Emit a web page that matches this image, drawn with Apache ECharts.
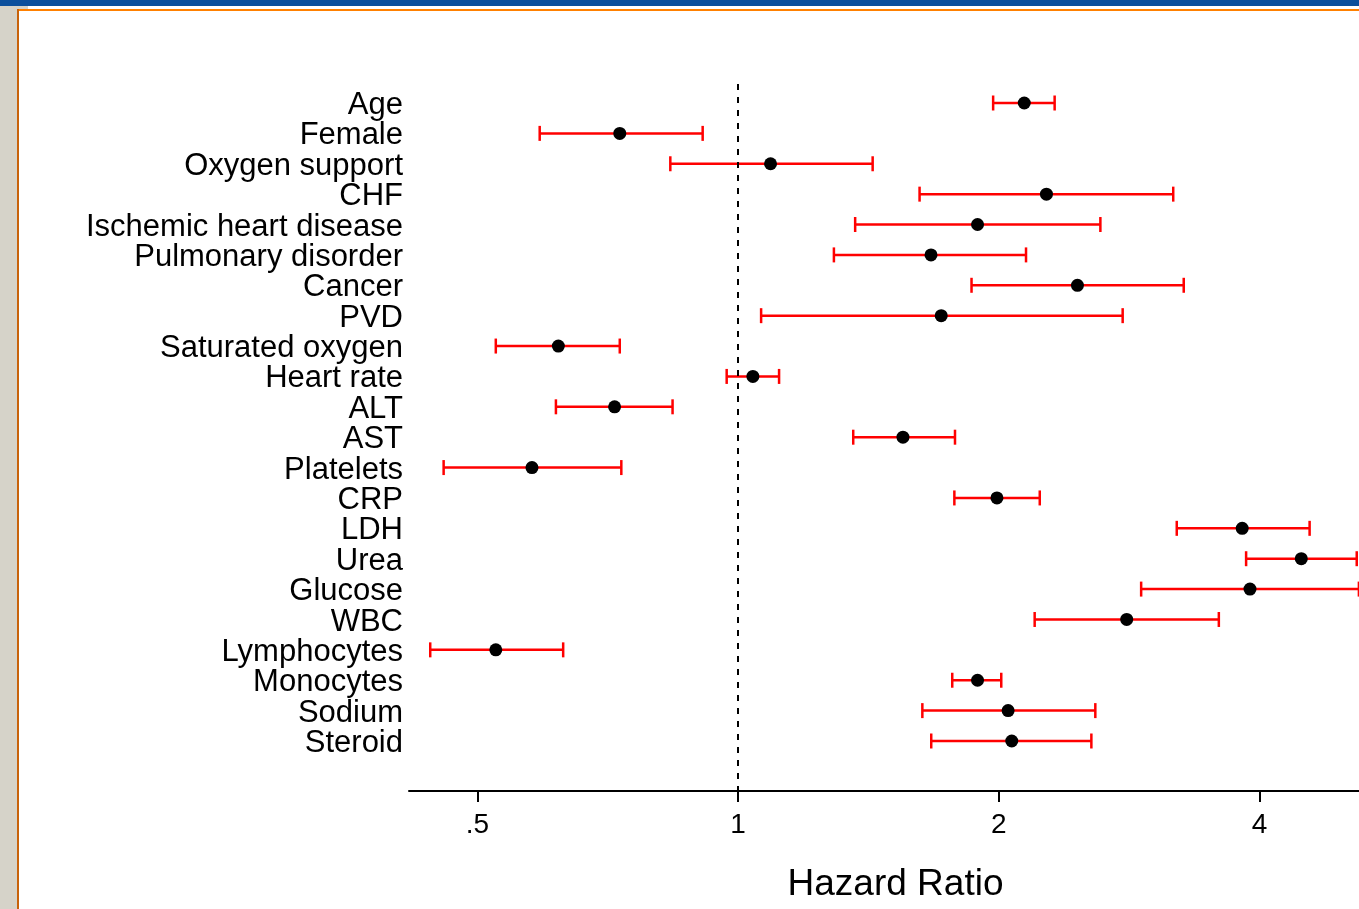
<!DOCTYPE html>
<html>
<head>
<meta charset="utf-8">
<title>Hazard Ratio</title>
<script src="https://cdn.jsdelivr.net/npm/echarts@6.0.0/dist/echarts.min.js"></script>
<style>
  html, body { margin: 0; padding: 0; overflow: hidden; background: #fff; }
  #chart { width: 1400px; height: 909px; }
</style>
</head>
<body>
<div id="chart"></div>
<script>
// covariates, top to bottom
const labels = ['Age', 'Female', 'Oxygen support', 'CHF', 'Ischemic heart disease',
  'Pulmonary disorder', 'Cancer', 'PVD', 'Saturated oxygen', 'Heart rate', 'ALT', 'AST',
  'Platelets', 'CRP', 'LDH', 'Urea', 'Glucose', 'WBC', 'Lymphocytes', 'Monocytes',
  'Sodium', 'Steroid'];
// hazard ratio and 95% CI
const hr = [2.14, 0.73, 1.09, 2.27, 1.89, 1.67, 2.465, 1.716, 0.62, 1.04, 0.72, 1.55,
  0.578, 1.99, 3.82, 4.47, 3.9, 2.81, 0.525, 1.89, 2.05, 2.07];
const lower = [1.97, 0.59, 0.835, 1.62, 1.365, 1.29, 1.86, 1.063, 0.525, 0.97, 0.616, 1.358,
  0.457, 1.777, 3.21, 3.86, 2.92, 2.2, 0.441, 1.767, 1.632, 1.671];
const upper = [2.32, 0.91, 1.43, 3.18, 2.62, 2.15, 3.27, 2.78, 0.73, 1.115, 0.84, 1.78,
  0.733, 2.23, 4.57, 5.18, 5.21, 3.59, 0.628, 2.013, 2.585, 2.558];
const xTicks = [0.5, 1, 2, 4];
const rowIdx = labels.map((_, i) => i);

const yMin = -0.6254;
const yMax = 22.646;
// blank end stops so the first/last real labels are never auto-hidden
const yLabelVals = [yMin].concat(rowIdx, [yMax]);

const chart = echarts.init(document.getElementById('chart'));

const option = {
  backgroundColor: '#fff',
  animation: false,
  textStyle: { fontFamily: 'Liberation Sans, Arial, sans-serif', color: '#000' },
  graphic: [
    // window chrome around the plot
    { type: 'rect', shape: { x: 0, y: 0, width: 1400, height: 6 }, style: { fill: '#0b4f9c' } },
    { type: 'rect', shape: { x: 0, y: 6, width: 28, height: 4 }, style: { fill: '#d6d3c9' } },
    { type: 'rect', shape: { x: 0, y: 6, width: 17, height: 903 }, style: { fill: '#d6d3c9' } },
    { type: 'rect', shape: { x: 17, y: 9, width: 1400, height: 2 }, style: { fill: '#ff8000' } },
    { type: 'rect', shape: { x: 17, y: 9, width: 2, height: 900 }, style: { fill: '#c8620a' } }
  ],
  grid: { left: 409, right: 18, top: 84, bottom: 118 },
  xAxis: {
    type: 'log',
    logBase: 2,
    min: 0.4168,
    max: 5.54,
    name: 'Hazard Ratio',
    nameLocation: 'middle',
    nameGap: 75,
    nameTextStyle: { fontSize: 37, color: '#000' },
    axisLine: { onZero: false, lineStyle: { color: '#000', width: 2 } },
    axisTick: { customValues: xTicks, length: 11, lineStyle: { color: '#000', width: 2 } },
    axisLabel: {
      customValues: xTicks,
      margin: 20,
      fontSize: 28,
      color: '#000',
      formatter: v => (v < 1 ? String(v).replace(/^0/, '') : String(v))
    },
    splitLine: { show: false }
  },
  yAxis: {
    type: 'value',
    inverse: true,
    min: yMin,
    max: yMax,
    axisLine: { show: false, onZero: false },
    axisTick: { show: false },
    splitLine: { show: false },
    axisLabel: {
      customValues: yLabelVals,
      showMinLabel: false,
      showMaxLabel: false,
      hideOverlap: false,
      margin: 6,
      fontSize: 31,
      color: '#000',
      formatter: v => {
        const i = Math.round(v);
        return Math.abs(v - i) < 1e-6 && labels[i] ? '{a|' + labels[i] + '}' : '';
      },
      rich: { a: { fontSize: 31, color: '#000', padding: [5, 0, 0, 0] } }
    }
  },
  series: [
    {
      type: 'custom',
      name: 'CI',
      encode: { x: [0, 1], y: 2 },
      renderItem: function (params, api) {
        const y = api.value(2);
        const p1 = api.coord([api.value(0), y]);
        const p2 = api.coord([api.value(1), y]);
        const h = 7.5;
        const st = { stroke: '#ff0000', lineWidth: 2.5 };
        return {
          type: 'group',
          children: [
            { type: 'line', shape: { x1: p1[0], y1: p1[1], x2: p2[0], y2: p2[1] }, style: st },
            { type: 'line', shape: { x1: p1[0], y1: p1[1] - h, x2: p1[0], y2: p1[1] + h }, style: st },
            { type: 'line', shape: { x1: p2[0], y1: p2[1] - h, x2: p2[0], y2: p2[1] + h }, style: st }
          ]
        };
      },
      data: rowIdx.map(i => [lower[i], upper[i], i]),
      z: 2
    },
    {
      type: 'scatter',
      name: 'HR',
      symbol: 'circle',
      symbolSize: 13,
      itemStyle: { color: '#000', opacity: 1 },
      data: rowIdx.map(i => [hr[i], i]),
      z: 3,
      markLine: {
        silent: true,
        symbol: 'none',
        label: { show: false },
        lineStyle: { color: '#000', width: 2, type: [6, 7] },
        data: [{ xAxis: 1 }]
      }
    }
  ]
};

chart.setOption(option);
</script>
</body>
</html>
